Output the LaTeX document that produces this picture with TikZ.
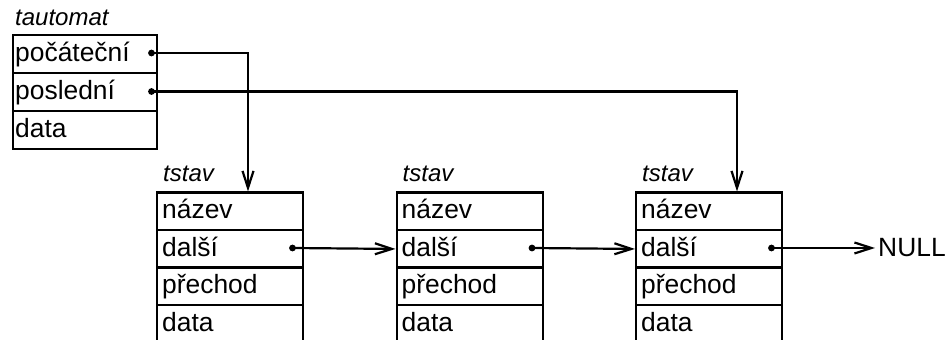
\documentclass[tikz,border=0pt]{standalone}
\usepackage{fontspec}
\setmainfont{Liberation Sans}
\usetikzlibrary{arrows.meta}
\begin{document}
\begin{tikzpicture}[x=0.5pt,y=-0.5pt,line width=1.2pt,
  field/.style={draw, rectangle, anchor=north west, align=left,
    text height=0.716em, text depth=0pt, inner ysep=0pt,
    font=\fontsize{13.2}{15}\selectfont},
  autrow/.style={field, inner xsep=1pt, text width=70pt, minimum height=19pt},
  staterow/.style={field, inner xsep=2.5pt, text width=68pt, minimum height=18.75pt},
  typelabel/.style={anchor=base west, inner sep=0pt, font=\fontsize{12}{14}\selectfont\itshape},
  ptr/.style={circle, fill, inner sep=0pt, minimum size=3.4pt},
  link/.style={line width=1.1pt, -{Straight Barb[length=8.5pt,width=5.5pt]}}]
\useasboundingbox (0,0) rectangle (947,340);

% record tautomat
\node[typelabel] (tautlbl) at (14,26) {tautomat};
\node[autrow] (a1) at (12,34) {počáteční};
\node[autrow] (a2) at (12,72) {poslední};
\node[autrow] (a3) at (12,110) {data};
\node[ptr] (p1) at (151.5,53) {};
\node[ptr] (p2) at (151.5,91.5) {};

% three records tstav
\foreach \i/\x in {1/156, 2/395.5, 3/635} {
  \node[typelabel] (lbl\i) at (\x+6,182) {tstav};
  \node[staterow] (s\i n) at (\x,191.5) {název};
  \node[staterow] (s\i d) at (\x,229) {další};
  \node[staterow] (s\i p) at (\x,266.5) {přechod};
  \node[staterow] (s\i x) at (\x,304) {data};
  \node[ptr] (q\i) at (\x+136.5,248) {};
}

% entry points of the top pointers
\coordinate (e1) at (248,191.5);
\coordinate (e3) at (737,191.5);
\node[anchor=west, inner xsep=1pt, inner ysep=0pt, font=\fontsize{13.2}{15}\selectfont] (null) at (875,248) {NULL};

% pointers
\draw[link] (p1.center) -| (e1);
\draw[link] (p2.center) -| (e3);
\draw[link] (q1.center) -- (s2d.west);
\draw[link] (q2.center) -- (s3d.west);
\draw[link] (q3.center) -- (null.west);
\end{tikzpicture}
\end{document}
